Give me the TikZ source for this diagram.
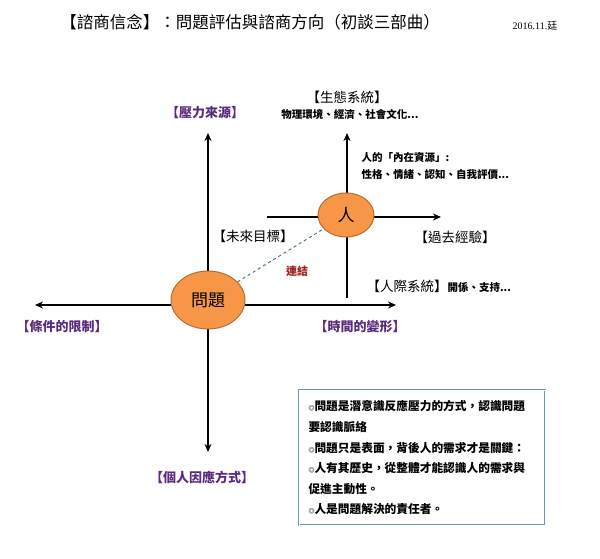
\documentclass[tikz,border=0pt]{standalone}
\usepackage{fontspec}
\setmainfont{Noto Sans CJK TC}
\newfontfamily\cjk{Noto Sans CJK TC}
\newfontfamily\lat{Liberation Serif}
\usetikzlibrary{arrows.meta,shapes.geometric}
\definecolor{org}{HTML}{F79646}
\definecolor{orgd}{HTML}{B66D31}
\definecolor{pur}{HTML}{5B2C7E}
\definecolor{dred}{HTML}{A0201C}
\definecolor{boxc}{HTML}{5F9AA6}
\begin{document}
\begin{tikzpicture}[x=1pt,y=-1pt,
  ax/.style={line width=1.6pt,-{Stealth[length=8pt,width=7pt]}},
  ln/.style={line width=1.6pt},
  blob/.style={ellipse,fill=org,draw=orgd,line width=1pt,inner sep=0pt},
  pl/.style={text=pur,font=\bfseries\fontsize{13}{15}\selectfont},
  bl/.style={font=\fontsize{13.5}{15}\selectfont},
  sm/.style={font=\fontsize{10.5}{12}\selectfont\bfseries}]
\useasboundingbox (0,0) rectangle (600,559);
\fill[white] (0,0) rectangle (600,559);
\node[font=\fontsize{16.5}{18}\selectfont] (title) at (250,22) {【諮商信念】：問題評估與諮商方向（初談三部曲）};
\node[font=\lat\fontsize{10}{12}\selectfont] (date) at (535,26) {2016.11.\cjk 廷};
% main axes
\coordinate (vt) at (208,133); \coordinate (vb) at (208,452);
\coordinate (hl) at (35,305); \coordinate (hr) at (396,305);
\coordinate (c) at (208,305);
\draw[ax] (c) -- (vt); \draw[ax] (c) -- (vb);
\draw[ax] (c) -- (hl); \draw[ax] (c) -- (hr);
% person axes
\coordinate (pt) at (347,133); \coordinate (pb) at (347,298);
\coordinate (pl0) at (267,217); \coordinate (pr) at (441,217);
\coordinate (pc) at (347,217);
\draw[ax] (pc) -- (pt); \draw[ln] (pc) -- (pb);
\draw[ln] (pl0) -- (pc); \draw[ax] (pc) -- (pr);
\node[blob,minimum width=74pt,minimum height=58pt,font=\fontsize{17}{18}\selectfont] (q) at (208,300) {問題};
\node[blob,minimum width=56pt,minimum height=44pt,font=\fontsize{17}{18}\selectfont] (p) at (346,215) {人};
\draw[dashed,line width=0.9pt,color=boxc!70!black] (q) -- (p);
\node[text=dred,font=\bfseries\fontsize{11}{12}\selectfont] (lk) at (297,271) {連結};
\node[pl] (a) at (205,113) {【壓力來源】};
\node[bl] (b) at (347,97) {【生態系統】};
\node[sm] (b2) at (350,114) {物理環境、經濟、社會文化...};
\node[sm,anchor=west] (i1) at (358,157) {人的「內在資源」:};
\node[sm,anchor=west] (i2) at (358,175) {性格、情緒、認知、自我評價...};
\node[bl] (f) at (253,236) {【未來目標】};
\node[bl] (g) at (455,237) {【過去經驗】};
\node[anchor=west] (r) at (363,286) {\fontsize{13.5}{15}\selectfont【人際系統】\bfseries\fontsize{10.5}{12}\selectfont 開係、支持...};
\node[pl] (l) at (62,327) {【條件的限制】};
\node[pl] (t) at (360,327) {【時間的變形】};
\node[pl] (m) at (202,477) {【個人因應方式】};
\draw[boxc,line width=1.6pt] (299,390) rectangle (545,525);
\draw[white,line width=0.5pt] (299,390) rectangle (545,525);
\begin{scope}[every node/.style={anchor=west,font=\bfseries\fontsize{11.7}{13}\selectfont}]
\node (t1) at (305,406) {{\fontsize{6}{6}\selectfont ◎}問題是潛意識反應壓力的方式，認識問題};
\node (t2) at (305,427) {要認識脈絡};
\node (t3) at (305,448) {{\fontsize{6}{6}\selectfont ◎}問題只是表面，背後人的需求才是關鍵：};
\node (t4) at (305,468) {{\fontsize{6}{6}\selectfont ◎}人有其歷史，從整體才能認識人的需求與};
\node (t5) at (305,489) {促進主動性。};
\node (t6) at (305,509) {{\fontsize{6}{6}\selectfont ◎}人是問題解決的責任者。};
\end{scope}
\end{tikzpicture}
\end{document}
